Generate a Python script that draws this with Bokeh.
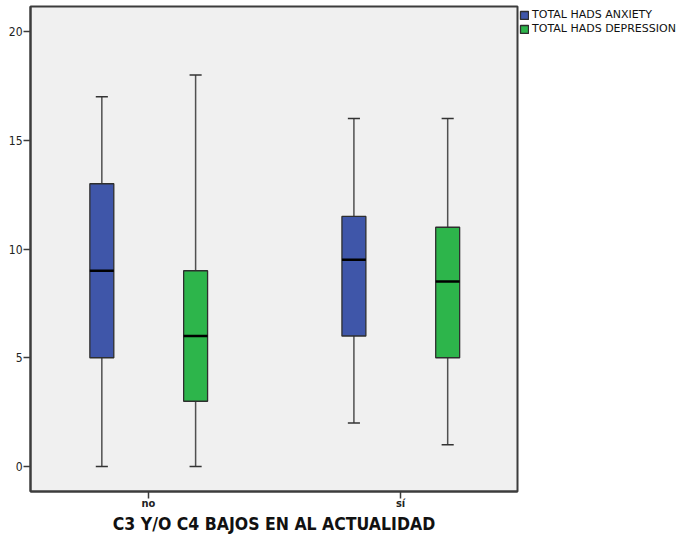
from bokeh.plotting import figure
from bokeh.models import (FixedTicker, Range1d, Legend, LegendItem)
from bokeh.embed import file_html
from bokeh.resources import INLINE

# Groups on the x axis and the two scores shown per group
categories = ["no", "sí"]
series = ["TOTAL HADS ANXIETY", "TOTAL HADS DEPRESSION"]
colors = ["#3F56A9", "#2DB54B"]

# Box-plot summaries per series, one value per category: [no, sí]
anx_low = [0, 2]
anx_q1 = [5, 6]
anx_med = [9, 9.5]
anx_q3 = [13, 11.5]
anx_high = [17, 16]

dep_low = [0, 1]
dep_q1 = [3, 5]
dep_med = [6, 8.5]
dep_q3 = [9, 11]
dep_high = [18, 16]

y_ticks = [0, 5, 10, 15, 20]

stats = [
    (anx_low, anx_q1, anx_med, anx_q3, anx_high),
    (dep_low, dep_q1, dep_med, dep_q3, dep_high),
]

cat_x = [1, 2]
offsets = [-0.185, 0.187]
box_w = 0.095
cap_w = 0.048

p = figure(frame_width=487, frame_height=485, output_backend="svg",
           toolbar_location=None,
           x_range=Range1d(0.532, 2.464), y_range=Range1d(-1.15, 21.15),
           min_border_left=30, min_border_right=0, min_border_top=6,
           min_border_bottom=51)

p.background_fill_color = "#F0F0F0"
p.border_fill_color = "white"
p.outline_line_color = "#3C3C3C"
p.outline_line_width = 2
p.grid.visible = False

fnt = "DejaVu Sans Condensed"

p.xaxis.ticker = FixedTicker(ticks=cat_x)
p.xaxis.major_label_overrides = {1: categories[0], 2: categories[1]}
p.xaxis.axis_label = "C3 Y/O C4 BAJOS EN AL ACTUALIDAD"
p.xaxis.axis_label_text_font = fnt
p.xaxis.axis_label_text_font_style = "bold"
p.xaxis.axis_label_text_font_size = "17.5px"
p.xaxis.axis_label_text_color = "#111111"
p.xaxis.axis_label_standoff = 1

p.yaxis.ticker = FixedTicker(ticks=y_ticks)

for ax in (p.xaxis[0], p.yaxis[0]):
    ax.axis_line_color = "#3C3C3C"
    ax.axis_line_width = 2
    ax.major_tick_line_color = "#3C3C3C"
    ax.major_tick_line_width = 1.5
    ax.major_tick_out = 7
    ax.major_tick_in = 0
    ax.minor_tick_line_color = None
    ax.major_label_text_font = fnt
    ax.major_label_text_color = "#222222"

p.xaxis.major_label_standoff = -2
p.yaxis.major_label_standoff = 1
p.xaxis.major_label_text_font_size = "11px"
p.xaxis.major_label_text_font_style = "bold"
p.yaxis.major_label_text_font_size = "12px"

box_renderers = []
for (low, q1, med, q3, high), off, col in zip(stats, offsets, colors):
    xs = [c + off for c in cat_x]
    # whiskers
    p.segment(x0=xs, y0=low, x1=xs, y1=q1, line_color="#505050", line_width=1.5)
    p.segment(x0=xs, y0=q3, x1=xs, y1=high, line_color="#505050", line_width=1.5)
    # caps
    p.segment(x0=[x - cap_w / 2 for x in xs], y0=low,
              x1=[x + cap_w / 2 for x in xs], y1=low,
              line_color="#333333", line_width=1.5)
    p.segment(x0=[x - cap_w / 2 for x in xs], y0=high,
              x1=[x + cap_w / 2 for x in xs], y1=high,
              line_color="#333333", line_width=1.5)
    # boxes
    r = p.quad(left=[x - box_w / 2 for x in xs], right=[x + box_w / 2 for x in xs],
               bottom=q1, top=q3, fill_color=col, line_color="#2E2E2E",
               line_width=1.3)
    box_renderers.append(r)
    # medians
    p.segment(x0=[x - box_w / 2 for x in xs], y0=med,
              x1=[x + box_w / 2 for x in xs], y1=med,
              line_color="black", line_width=2.5)

legend = Legend(items=[LegendItem(label=s, renderers=[r])
                       for s, r in zip(series, box_renderers)],
                location="top_left")
legend.glyph_width = 10
legend.glyph_height = 10
legend.label_text_font = "DejaVu Sans"
legend.label_text_font_size = "11px"
legend.label_text_color = "#111111"
legend.label_standoff = 3
legend.label_height = 10
legend.spacing = 1
legend.padding = 0
legend.margin = 2
legend.background_fill_alpha = 0
legend.border_line_color = None
p.add_layout(legend, "right")

open("out.html", "w").write(file_html(p, INLINE))
